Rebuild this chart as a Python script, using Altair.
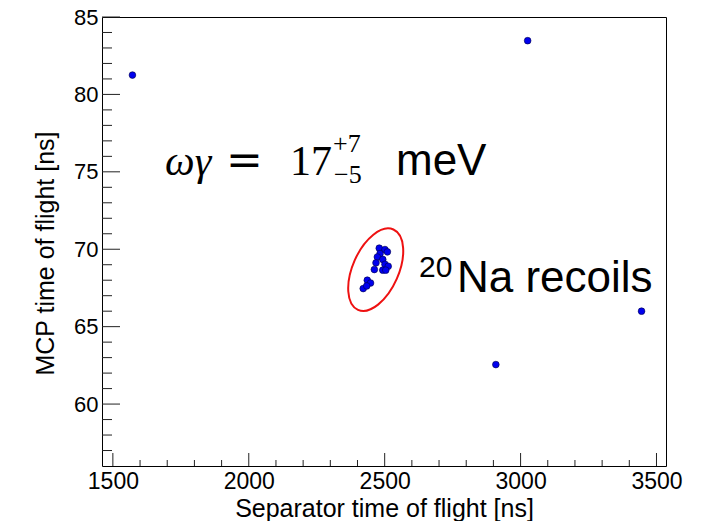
import altair as alt
import pandas as pd

# ---- data ----
sep_tof = [1572, 3026, 2909, 3445,
           2480, 2501, 2510, 2483, 2473, 2493, 2468, 2501, 2513, 2462,
           2493, 2504, 2436, 2448, 2421, 2434]
mcp_tof = [81.25, 83.47, 62.55, 66.0,
           70.07, 69.98, 69.83, 69.72, 69.5, 69.34, 69.12, 69.03, 68.9, 68.69,
           68.65, 68.65, 68.0, 67.82, 67.46, 67.63]

x_major = [1500, 2000, 2500, 3000, 3500]
x_minor = [1600, 1700, 1800, 1900, 2100, 2200, 2300, 2400, 2600, 2700, 2800,
           2900, 3100, 3200, 3300, 3400]
y_major = [60, 65, 70, 75, 80, 85]
y_minor = [57, 58, 59, 61, 62, 63, 64, 66, 67, 68, 69, 71, 72, 73, 74, 76, 77,
           78, 79, 81, 82, 83, 84]

ellipse_center_x = [2467]
ellipse_center_y = [68.68]

x_title = "Separator time of flight [ns]"
y_title = "MCP time of flight [ns]"
txt_omega = ["ωγ"]
txt_eq = ["="]
txt_17 = ["17"]
txt_sup = ["+7"]
txt_sub = ["−5"]
txt_unit = ["meV"]
txt_iso = ["20"]
txt_rec = ["Na recoils"]

W, H = 564, 449
FONT = "Liberation Sans"

xs = alt.Scale(domain=[1460, 3535], nice=False, zero=False)
ys = alt.Scale(domain=[56, 85], nice=False, zero=False)

pts = pd.DataFrame({"x": sep_tof, "y": mcp_tof})

base_x = alt.X("x:Q", scale=xs, title=x_title,
               axis=alt.Axis(values=x_major, format="d", ticks=False, tickSize=0,
                             domain=False, grid=False, labelFont=FONT, labelFontSize=23,
                             labelColor="black", labelPadding=4, labelFlush=False,
                             titleFont=FONT, titleFontSize=25, titleFontWeight="normal",
                             titleColor="black", titleBaseline="alphabetic",
                             titleY=50))
base_y = alt.Y("y:Q", scale=ys, title=y_title,
               axis=alt.Axis(values=y_major, format="d", ticks=False, tickSize=0,
                             domain=False, grid=False, labelFont=FONT, labelFontSize=22,
                             labelColor="black", labelPadding=4,
                             titleFont=FONT, titleFontSize=25, titleFontWeight="normal",
                             titleColor="black", titleBaseline="alphabetic",
                             titleX=-49, titleY=236))

points = alt.Chart(pts).mark_circle(size=45, color="#0000ee", opacity=1,
                                    stroke="#000044", strokeWidth=0.6).encode(
    x=base_x, y=base_y)

def xtick(vals, length):
    return alt.Chart(pd.DataFrame({"x": vals})).mark_rule(
        color="#222222", strokeWidth=1).encode(
        x=alt.X("x:Q", scale=xs), y=alt.value(H), y2=alt.value(H - length))

def ytick(vals, length):
    return alt.Chart(pd.DataFrame({"y": vals})).mark_rule(
        color="#222222", strokeWidth=1).encode(
        y=alt.Y("y:Q", scale=ys), x=alt.value(0), x2=alt.value(length))

k = 0.5523
rx = 0.524
kx = k * rx
ell_path = (f"M 0 -1 C {kx} -1 {rx} {-k} {rx} 0 "
            f"C {rx} {k} {kx} 1 0 1 "
            f"C {-kx} 1 {-rx} {k} {-rx} 0 "
            f"C {-rx} {-k} {-kx} -1 0 -1 Z")
ellipse = alt.Chart(pd.DataFrame({"x": ellipse_center_x, "y": ellipse_center_y})).mark_point(
    shape=ell_path, size=7709, angle=23.8, filled=False, stroke="#ee1111",
    strokeWidth=2, opacity=1).encode(
    x=alt.X("x:Q", scale=xs), y=alt.Y("y:Q", scale=ys))

def label(txt, px, py, size, font=FONT, style="normal"):
    return alt.Chart(pd.DataFrame({"t": txt})).mark_text(
        align="left", baseline="alphabetic", font=font, fontSize=size,
        fontStyle=style, color="black").encode(
        x=alt.value(px), y=alt.value(py), text="t:N")

texts = [
    label(txt_omega, 63, 158, 42, "Liberation Serif", "italic"),
    label(txt_eq, 124, 158, 44, "DejaVu Serif"),
    label(txt_17, 188, 158, 42, "Liberation Serif"),
    label(txt_sup, 231, 134.7, 26, "Liberation Serif"),
    label(txt_sub, 232, 166.3, 26, "Liberation Serif"),
    label(txt_unit, 294, 158, 44),
    label(txt_iso, 317, 259.7, 30),
    label(txt_rec, 355, 274.7, 44),
]

chart = alt.layer(
    xtick(x_minor, 6), xtick(x_major, 13),
    ytick(y_minor, 10), ytick(y_major, 18),
    points, ellipse, *texts
).properties(
    width=W, height=H,
    autosize=alt.AutoSizeParams(type="none"),
    padding={"left": 94, "top": 9, "right": 30, "bottom": 55},
    background="white",
).configure_view(stroke="black", strokeWidth=1)

chart.save("out.html", embed_options={"renderer": "svg", "actions": False})
